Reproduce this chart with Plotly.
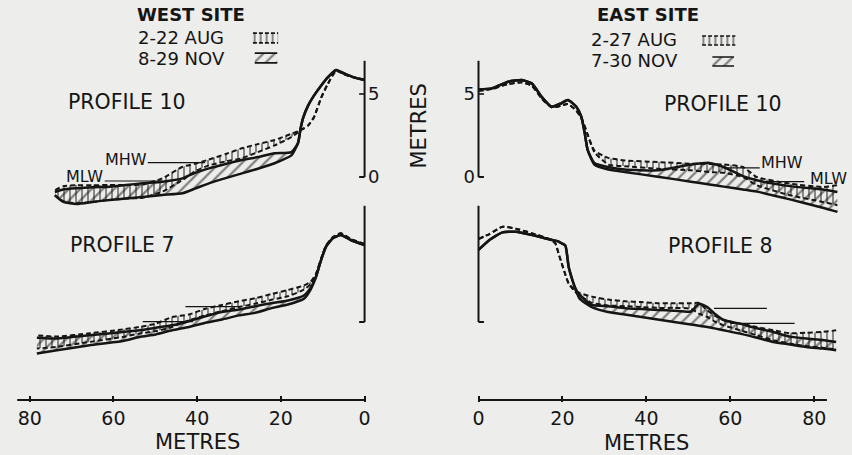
import plotly.graph_objects as go

# ---------------- data (distance in metres, elevation in metres) ----------------
# WEST SITE, PROFILE 10
w10_dist = [0, 2.6, 5, 6.8, 8.8, 10.4, 12.1, 13.5, 14.7, 15.3, 15.9, 17.5, 21.5, 25.5, 29.3,
            33, 37.2, 40.5, 43.5, 48.3, 53, 57, 60.9, 65, 68.8, 72, 74]
w10_aug_hi = [5.85, 6.0, 6.2, 6.4, 5.6, 4.76, 3.6, 3.1, 2.9, 2.82, 2.75, 2.6, 2.23, 1.98, 1.73,
              1.4, 1.05, 0.8, 0.62, -0.08, -0.45, -0.48, -0.48, -0.5, -0.5, -0.55, -0.8]
w10_aug_lo = [5.85, 6.0, 6.2, 6.4, 5.6, 4.76, 3.6, 3.1, 2.9, 2.82, 2.7, 2.4, 1.9, 1.5, 1.13,
              0.95, 0.7, 0.35, -0.18, -0.88, -1.25, -1.3, -1.38, -1.5, -1.58, -1.45, -1.1]
w10_nov_hi = [5.85, 6.0, 6.25, 6.45, 6.0, 5.5, 4.9, 4.3, 3.55, 2.9, 2.05, 1.5, 1.43, 1.2, 1.02,
              0.8, 0.52, 0.25, -0.08, -0.28, -0.38, -0.48, -0.58, -0.62, -0.68, -0.75, -0.9]
w10_nov_lo = [5.85, 6.0, 6.25, 6.45, 6.0, 5.5, 4.9, 4.3, 3.55, 2.9, 2.05, 1.3, 0.83, 0.5, 0.22,
              -0.05, -0.38, -0.7, -0.98, -1.08, -1.2, -1.3, -1.38, -1.5, -1.62, -1.5, -1.1]

# EAST SITE, PROFILE 10
e10_dist = [0, 3.2, 7.1, 10.3, 12.7, 15.0, 17.4, 19.7, 21.3, 23.3, 24.5, 25.3, 26.0, 27.6,
            30.9, 34.8, 42.7, 50.6, 55, 58.4, 63, 66.3, 74.2, 82, 85.5]
e10_aug_hi = [5.2, 5.3, 5.6, 5.7, 5.5, 4.75, 4.2, 4.3, 4.4, 4.0, 3.55, 3.05, 2.55, 1.6,
              1.15, 1.0, 0.9, 0.8, 0.78, 0.75, 0.6, 0.0, -0.4, -0.6, -0.5]
e10_aug_lo = [5.2, 5.3, 5.6, 5.7, 5.5, 4.75, 4.2, 4.3, 4.4, 4.0, 3.55, 3.05, 2.55, 1.5,
              0.75, 0.65, 0.5, 0.4, 0.3, 0.25, 0.0, -0.5, -1.1, -1.5, -1.7]
e10_nov_hi = [5.28, 5.34, 5.74, 5.84, 5.64, 4.84, 4.23, 4.44, 4.64, 4.23, 3.63, 2.65, 1.63, 0.84,
              0.6, 0.45, 0.4, 0.75, 0.85, 0.6, 0.05, -0.2, -0.55, -0.75, -0.9]
e10_nov_lo = [5.28, 5.34, 5.74, 5.84, 5.64, 4.84, 4.23, 4.44, 4.64, 4.23, 3.63, 2.65, 1.63, 0.75,
              0.45, 0.3, 0.02, -0.28, -0.45, -0.58, -0.75, -0.88, -1.35, -1.85, -2.1]

# WEST SITE, PROFILE 7
w7_dist = [0, 3.3, 5.7, 7.6, 9.2, 10.4, 11.6, 12.8, 14.5, 18.3, 22, 26.2, 30, 34.1, 38, 42,
           46, 49.9, 53.8, 57.8, 65.7, 73.5, 78.3]
w7_aug_hi = [4.7, 5.0, 5.34, 5.1, 4.6, 3.8, 2.9, 2.45, 2.2, 1.93, 1.7, 1.43, 1.25, 1.03, 0.8,
             0.45, 0.3, -0.1, -0.3, -0.45, -0.68, -0.88, -0.8]
w7_aug_lo = [4.7, 5.0, 5.34, 5.1, 4.6, 3.8, 2.9, 2.3, 1.95, 1.55, 1.35, 1.1, 0.9, 0.65, 0.4,
             0.1, -0.3, -0.55, -0.7, -0.9, -1.2, -1.5, -1.6]
w7_nov_hi = [4.64, 4.94, 5.24, 5.04, 4.54, 3.73, 2.73, 2.1, 1.6, 1.3, 1.15, 0.95, 0.75, 0.6,
             0.35, 0.05, -0.2, -0.35, -0.5, -0.6, -0.8, -1.0, -0.95]
w7_nov_lo = [4.64, 4.94, 5.24, 5.04, 4.54, 3.73, 2.73, 2.0, 1.4, 1.05, 0.85, 0.55, 0.4, 0.15,
             -0.05, -0.3, -0.5, -0.75, -0.9, -1.15, -1.4, -1.7, -1.9]

# EAST SITE, PROFILE 8
e8_dist = [0, 2.6, 5.7, 8.9, 12.8, 16.8, 18.3, 19.1, 19.8, 20.7, 21.5, 22.9, 24.1, 27, 30.9,
           34.9, 38.8, 42.7, 46.6, 50.6, 52.5, 54.5, 56.5, 58.4, 62.3, 66.3, 70.2, 74.2, 78.1,
           82, 85.2]
e8_aug_hi = [5.0, 5.3, 5.74, 5.62, 5.34, 5.0, 4.74, 4.1, 3.55, 2.85, 2.3, 1.95, 1.75, 1.53,
             1.35, 1.25, 1.2, 1.13, 1.13, 1.13, 1.15, 0.7, 0.35, 0.12, -0.1, -0.3, -0.5, -0.68,
             -0.65, -0.6, -0.5]
e8_aug_lo = [5.0, 5.3, 5.74, 5.62, 5.34, 5.0, 4.74, 4.1, 3.55, 2.85, 2.3, 1.85, 1.6, 1.15,
             1.0, 0.95, 0.9, 0.85, 0.85, 0.8, 0.5, 0.3, 0.0, -0.2, -0.5, -0.8, -1.1, -1.3,
             -1.45, -1.55, -1.65]
e8_nov_hi = [4.34, 4.94, 5.4, 5.44, 5.24, 4.98, 4.9, 4.84, 4.74, 4.6, 3.3, 2.13, 1.63, 1.03,
             0.95, 0.83, 0.78, 0.73, 0.68, 0.63, 1.1, 0.9, 0.45, 0.12, -0.1, -0.38, -0.6, -0.88,
             -1.0, -1.08, -1.2]
e8_nov_lo = [4.34, 4.94, 5.4, 5.44, 5.24, 4.98, 4.9, 4.84, 4.74, 4.6, 3.3, 2.13, 1.4, 0.9,
             0.6, 0.45, 0.3, 0.15, 0.0, -0.15, -0.22, -0.3, -0.4, -0.5, -0.7, -0.95, -1.2,
             -1.35, -1.5, -1.6, -1.7]

# tidal reference levels: [level, start distance, end distance]
w10_mhw = [0.86, 38.1, 51.8]
w10_mlw = [-0.24, 48.3, 62.1]
e10_mhw = [0.55, 59.0, 67.0]
e10_mlw = [-0.28, 68.2, 77.6]
w7_mhw = [0.93, 30.0, 42.8]
w7_mlw = [0.02, 41.0, 53.0]
e8_mhw = [0.82, 56.1, 68.7]
e8_mlw = [-0.08, 60.0, 75.3]

x_ticks = [0, 20, 40, 60, 80]
y_ticks = [0, 5]
y_ticktext = ["0", "5"]

legend_west = ["2-22 AUG", "8-29 NOV"]
legend_east = ["2-27 AUG", "7-30 NOV"]

# ---------------- styling / layout geometry ----------------
W, H = 852, 455
INK = "#151515"
BG = "#ededeb"
FONT = "DejaVu Sans"


def fx(p):
    return p / W


def fy(p):
    return 1 - p / H


SL, SR, SY = 4.225, 4.2375, 16.6      # px per metre
X0L, X0R = 364, 479                   # pixel of distance 0
Y0T, Y0B = 177, 322                   # pixel of elevation 0
TOP_PX, TOPB_PX = 30, 215
BOT_T_PX, BOT_B_PX = 200, 402
AXIS_PX = 400

left_range = [84, -0.6]
right_range = [-0.6, 88]
left_dom = [fx(X0L - 84 * SL), fx(X0L + 0.6 * SL)]
right_dom = [fx(X0R - 0.6 * SR), min(1.0, fx(X0R + 88 * SR))]
top_range = [-(TOPB_PX - Y0T) / SY, (Y0T - TOP_PX) / SY]
top_dom = [fy(TOPB_PX), fy(TOP_PX)]
bot_range = [-(BOT_B_PX - Y0B) / SY, (Y0B - BOT_T_PX) / SY]
bot_dom = [fy(BOT_B_PX), fy(BOT_T_PX)]
axis_level = -(AXIS_PX - Y0B) / SY

fig = go.Figure()

panels = [
    ("x", "y", w10_dist, w10_aug_lo, w10_aug_hi, w10_nov_lo, w10_nov_hi, w10_mhw, w10_mlw),
    ("x2", "y2", e10_dist, e10_aug_lo, e10_aug_hi, e10_nov_lo, e10_nov_hi, e10_mhw, e10_mlw),
    ("x3", "y3", w7_dist, w7_aug_lo, w7_aug_hi, w7_nov_lo, w7_nov_hi, w7_mhw, w7_mlw),
    ("x4", "y4", e8_dist, e8_aug_lo, e8_aug_hi, e8_nov_lo, e8_nov_hi, e8_mhw, e8_mlw),
]

aug_line = dict(color=INK, width=2.0, dash="5px,3px", shape="spline", smoothing=0.5)
nov_line = dict(color=INK, width=2.5, shape="spline", smoothing=0.5)
aug_pat = dict(shape="|", fgcolor=INK, bgcolor="rgba(0,0,0,0)", size=6, solidity=0.32)
nov_pat = dict(shape="/", fgcolor=INK, bgcolor="rgba(0,0,0,0)", size=8, solidity=0.28)

for xa, ya, d, alo, ahi, nlo, nhi, mhw, mlw in panels:
    common = dict(xaxis=xa, yaxis=ya, mode="lines", hoverinfo="skip", showlegend=False)
    fig.add_trace(go.Scatter(x=d, y=alo, line=aug_line, **common))
    fig.add_trace(go.Scatter(x=d, y=ahi, line=aug_line, fill="tonexty",
                             fillcolor="rgba(0,0,0,0)", fillpattern=aug_pat, **common))
    fig.add_trace(go.Scatter(x=d, y=nlo, line=nov_line, **common))
    fig.add_trace(go.Scatter(x=d, y=nhi, line=nov_line, fill="tonexty",
                             fillcolor="rgba(0,0,0,0)", fillpattern=nov_pat, **common))
    for lev in (mhw, mlw):
        fig.add_trace(go.Scatter(x=[lev[1], lev[2]], y=[lev[0], lev[0]],
                                 line=dict(color=INK, width=1.2), **common))

# legend swatches on tiny auxiliary axes
swatches = [
    ("x5", "y5", [250, 278, 32, 44], aug_pat, True),
    ("x6", "y6", [252, 277, 52, 64], nov_pat, False),
    ("x7", "y7", [703, 740, 35, 46], aug_pat, True),
    ("x8", "y8", [714, 738, 56, 67], nov_pat, False),
]
sw_layout = {}
for xa, ya, box, pat, dashed in swatches:
    common = dict(xaxis=xa, yaxis=ya, hoverinfo="skip", showlegend=False)
    fig.add_trace(go.Scatter(x=[0, 1, 1, 0], y=[0, 0, 1, 1], fill="toself",
                             fillcolor="rgba(0,0,0,0)", fillpattern=pat, mode="lines",
                             line=dict(width=0, color="rgba(0,0,0,0)"), **common))
    fig.add_trace(go.Scatter(x=[0, 1, None, 0, 1], y=[1, 1, None, 0, 0], mode="lines",
                             line=dict(color=INK, width=1.6,
                                       dash="4px,2px" if dashed else "solid"), **common))
    n = xa[1:]
    sw_layout["xaxis" + n] = dict(domain=[fx(box[0]), fx(box[1])], range=[-0.05, 1.05],
                                  anchor="y" + n, visible=False, fixedrange=True)
    sw_layout["yaxis" + n] = dict(domain=[fy(box[3]), fy(box[2])], range=[-0.12, 1.12],
                                  anchor="x" + n, visible=False, fixedrange=True)

hidden_x = dict(visible=False, showgrid=False, zeroline=False, fixedrange=True)
bottom_x = dict(showgrid=False, zeroline=False, showline=False, ticks="inside", ticklen=6,
                tickwidth=1.6, tickcolor=INK, tickvals=x_ticks,
                tickfont=dict(family=FONT, size=19, color=INK), ticklabelstandoff=3,
                fixedrange=True)
y_common = dict(showgrid=False, zeroline=False, showline=False, ticks="", fixedrange=True,
                tickvals=y_ticks, ticktext=y_ticktext,
                tickfont=dict(family=FONT, size=18, color=INK))

layout_axes = dict(
    xaxis=dict(domain=left_dom, range=left_range, anchor="y", **hidden_x),
    yaxis=dict(domain=top_dom, range=top_range, anchor="x", side="right", **y_common),
    xaxis2=dict(domain=right_dom, range=right_range, anchor="y2", **hidden_x),
    yaxis2=dict(domain=top_dom, range=top_range, anchor="x2", side="left", **y_common),
    xaxis3=dict(domain=left_dom, range=left_range, anchor="y3", **bottom_x),
    yaxis3=dict(domain=bot_dom, range=bot_range, anchor="x3", side="right",
                showticklabels=False, **y_common),
    xaxis4=dict(domain=right_dom, range=right_range, anchor="y4", **bottom_x),
    yaxis4=dict(domain=bot_dom, range=bot_range, anchor="x4", side="left",
                showticklabels=False, **y_common),
)
layout_axes.update(sw_layout)

# axis lines drawn as shapes (vertical scale 0-7 m, foot, tick at 5 m, distance baseline)
shapes = []
ln = dict(color=INK, width=2)
for xa, ya, top in [("x", "y", True), ("x2", "y2", True), ("x3", "y3", False), ("x4", "y4", False)]:
    shapes.append(dict(type="line", xref=xa, yref=ya, x0=0, x1=0, y0=0, y1=7, line=ln))
    shapes.append(dict(type="line", xref=xa, yref=ya, x0=0, x1=1.3, y0=0, y1=0, line=ln))
    if top:
        shapes.append(dict(type="line", xref=xa, yref=ya, x0=0, x1=1.3, y0=5, y1=5,
                           line=dict(color=INK, width=1.6)))
    else:
        shapes.append(dict(type="line", xref=xa, yref=ya, x0=0, x1=83, y0=axis_level,
                           y1=axis_level, line=dict(color=INK, width=1.8)))

# text
ann = []


def txt(text, x, y, size, xref="paper", yref="paper", xanchor="center", bold=False,
        angle=0):
    ann.append(dict(text=("<b>%s</b>" % text) if bold else text, x=x, y=y, xref=xref,
                    yref=yref, xanchor=xanchor, yanchor="middle", showarrow=False,
                    textangle=angle, font=dict(family=FONT, size=size, color=INK)))


txt("WEST SITE", fx(189), fy(15), 18, bold=True)
txt(legend_west[0], fx(133), fy(37.5), 18, xanchor="left")
txt(legend_west[1], fx(133), fy(58.5), 18, xanchor="left")
txt("EAST SITE", fx(650), fy(15), 18, bold=True)
txt(legend_east[0], fx(591), fy(39), 18, xanchor="left")
txt(legend_east[1], fx(591), fy(60.5), 18, xanchor="left")

txt("PROFILE 10", 56.8, 4.52, 20.5, xref="x", yref="y")
txt("PROFILE 10", 58.3, 4.37, 20.5, xref="x2", yref="y2")
txt("PROFILE 7", 57.8, 4.64, 20.5, xref="x3", yref="y3")
txt("PROFILE 8", 57.7, 4.55, 20.5, xref="x4", yref="y4")

txt("MHW", 57.0, 1.08, 16, xref="x", yref="y")
txt("MLW", 67.0, 0.06, 16, xref="x", yref="y")
txt("MHW", 72.2, 0.87, 16, xref="x2", yref="y2")
txt("MLW", 83.3, -0.12, 16, xref="x2", yref="y2")

txt("METRES", fx(418.5), fy(126), 21, angle=-90)
txt("METRES", 40, fy(442), 21, xref="x3")
txt("METRES", 40, fy(443), 21, xref="x4")

fig.update_layout(
    width=W, height=H, margin=dict(l=0, r=0, t=0, b=0),
    paper_bgcolor=BG, plot_bgcolor="rgba(0,0,0,0)",
    showlegend=False, shapes=shapes, annotations=ann,
    **layout_axes,
)

fig.write_html("out.html",
               config={"displayModeBar": False},
               post_script="document.body.style.margin='0px';"
                           "document.body.style.overflow='hidden';")
